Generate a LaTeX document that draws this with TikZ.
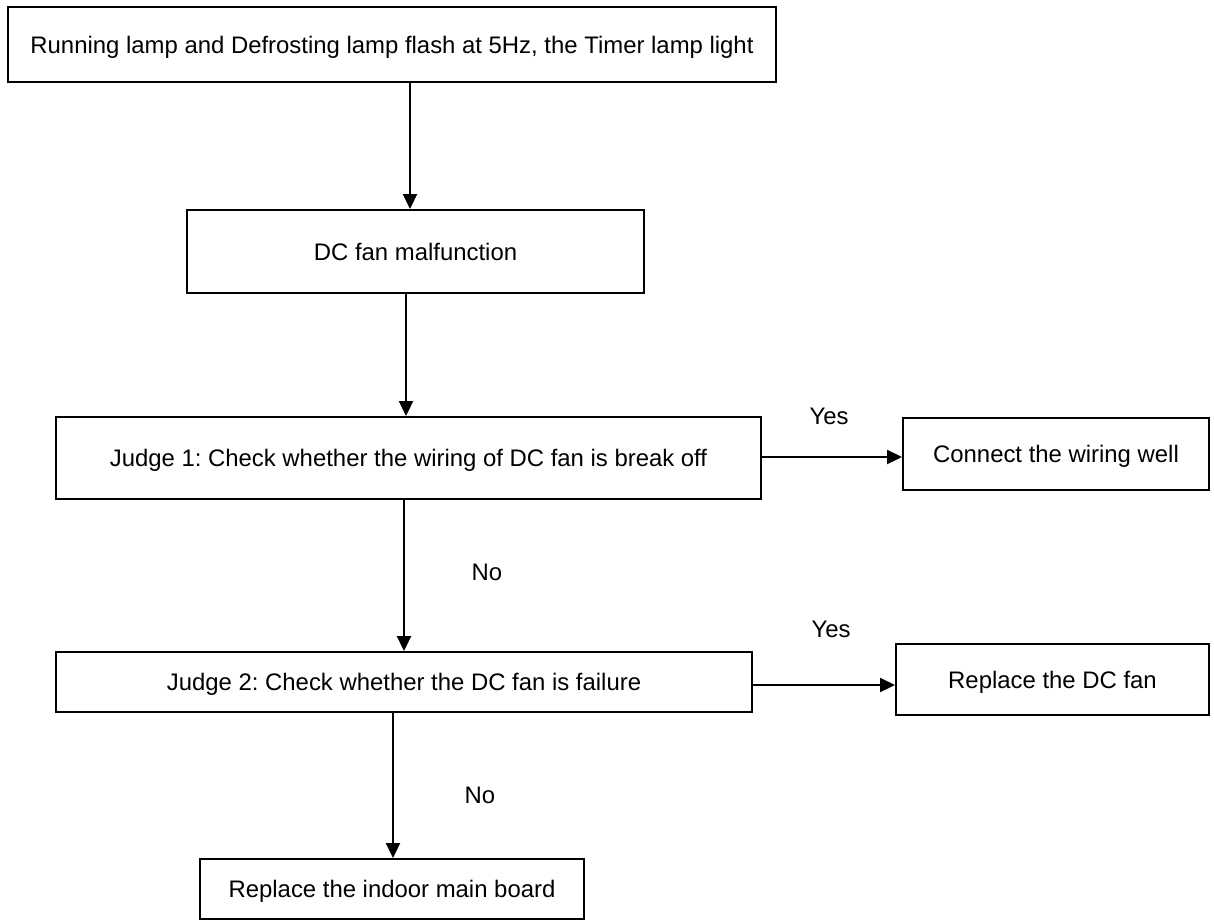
\documentclass[tikz,border=0pt]{standalone}
\usepackage{fontspec}
\setmainfont{Liberation Sans}
\usetikzlibrary{arrows.meta}
\frenchspacing
\begin{document}
\begin{tikzpicture}[x=1pt,y=-1pt,
  every node/.style={font=\fontsize{23.9}{28}\selectfont},
  box/.style={draw,line width=1.9pt,rectangle,inner sep=0pt,
              text height=17.1pt,text depth=0pt,align=center},
  arr/.style={line width=1.9pt,-{Triangle[length=15pt,width=14pt]}},
  lbl/.style={inner sep=0pt,text height=17.1pt,text depth=0pt}]
\useasboundingbox (0,0) rectangle (1214,922);

% process boxes
\node[box,minimum width=768pt,minimum height=75pt] (b1) at (392,44.5)
  {Running lamp and Defrosting lamp flash at 5Hz, the Timer lamp light};
\node[box,minimum width=457pt,minimum height=83pt] (b2) at (415.5,251.5)
  {DC fan malfunction};
\node[box,minimum width=705pt,minimum height=82pt] (b3) at (408.5,458)
  {Judge 1: Check whether the wiring of DC fan is break off};
\node[box,minimum width=306pt,minimum height=72pt] (b4) at (1056,454)
  {Connect the wiring well};
\node[box,minimum width=696pt,minimum height=60pt] (b5) at (404,682)
  {Judge 2: Check whether the DC fan is failure};
\node[box,minimum width=313pt,minimum height=71pt] (b6) at (1052.5,679.5)
  {Replace the DC fan};
\node[box,minimum width=384pt,minimum height=60pt] (b7) at (392,889)
  {Replace the indoor main board};

% x positions of the vertical connectors
\coordinate (c1) at (410,0);
\coordinate (c2) at (406,0);
\coordinate (c3) at (404,0);
\coordinate (c4) at (393,0);
% y positions of the horizontal connectors
\coordinate (r1) at (0,457);
\coordinate (r2) at (0,685);

\draw[arr] (b1.south -| c1) -- (b2.north -| c1);
\draw[arr] (b2.south -| c2) -- (b3.north -| c2);
\draw[arr] (b3.south -| c3) -- (b5.north -| c3);
\draw[arr] (b5.south -| c4) -- (b7.north -| c4);
\draw[arr] (b3.east |- r1) -- (b4.west |- r1);
\draw[arr] (b5.east |- r2) -- (b6.west |- r2);

% branch labels
\node[lbl] (y1) at (829,416) {Yes};
\node[lbl] (y2) at (831,629) {Yes};
\node[lbl] (n1) at (487,572) {No};
\node[lbl] (n2) at (480,795) {No};
\end{tikzpicture}
\end{document}
